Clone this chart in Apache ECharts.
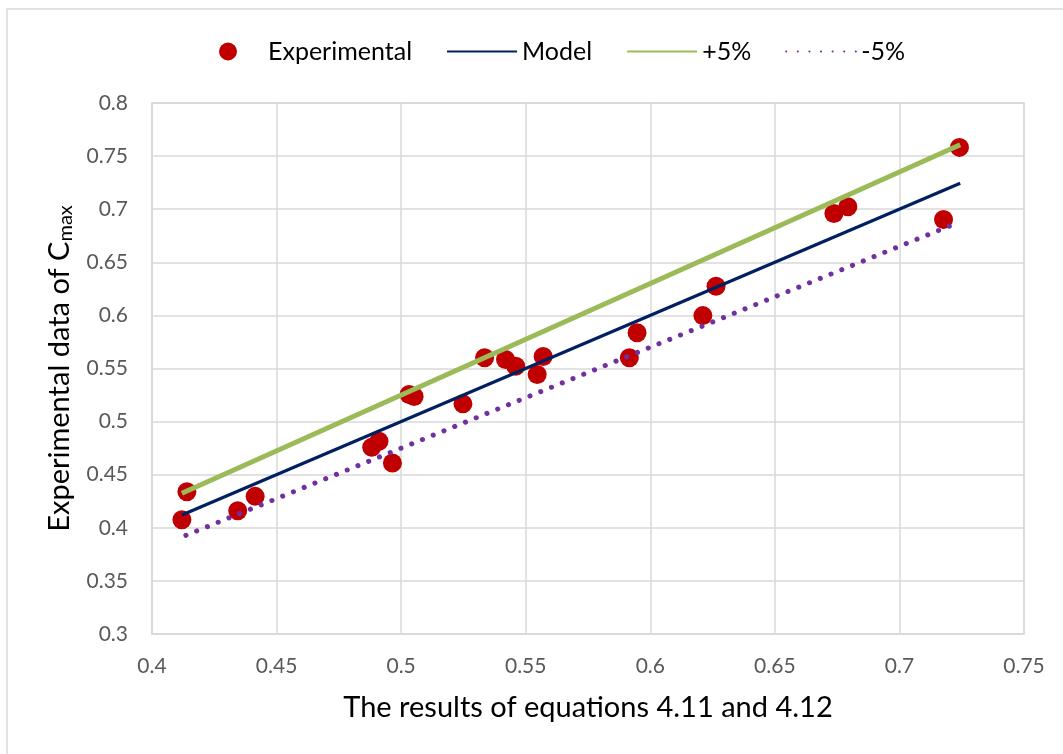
<!DOCTYPE html>
<html>
<head>
<meta charset="utf-8">
<script src="https://cdn.jsdelivr.net/npm/echarts@6/dist/echarts.min.js"></script>
<style>
  html, body { margin: 0; padding: 0; background: #fff; }
  #chart { width: 1063px; height: 754px; }
</style>
</head>
<body>
<div id="chart"></div>
<script>
// Measured vs. predicted maximum concentration
const expX = [0.412, 0.414, 0.4344, 0.4414, 0.4882, 0.4911, 0.4965, 0.5032, 0.5052,
              0.5248, 0.5335, 0.5419, 0.546, 0.5546, 0.557, 0.5916, 0.5947, 0.6211,
              0.6264, 0.6737, 0.6793, 0.7177, 0.7241];
const expY = [0.4075, 0.434, 0.416, 0.4296, 0.4758, 0.4815, 0.461, 0.5255, 0.5236,
              0.5167, 0.5601, 0.5585, 0.5522, 0.5443, 0.5613, 0.5601, 0.5836, 0.5998,
              0.6274, 0.6959, 0.7023, 0.6903, 0.7582];

// Reference lines (model and ±5% band)
const lineX  = [0.412, 0.7244];
const modelY = [0.412, 0.7244];
const plusY  = [0.4326, 0.7606];
const minusX = [0.4136, 0.7228];
const minusY = [0.3929, 0.6867];

// Axis ticks
const xTicks = { min: 0.4, max: 0.75, step: 0.05 };
const yTicks = { min: 0.3, max: 0.8, step: 0.05 };

const pairs = (xs, ys) => xs.map((x, i) => [x, ys[i]]);

const font = 'Lato, "Open Sans", sans-serif';
const gridColor = '#d9d9d9';
const hideSymbol = { itemStyle: { opacity: 0 } };

const chart = echarts.init(document.getElementById('chart'));
chart.setOption({
  animation: false,
  textStyle: { fontFamily: font },
  graphic: [{
    type: 'rect',
    shape: { x: 7, y: 9, width: 1100, height: 800 },
    style: { fill: 'none', stroke: gridColor, lineWidth: 1.5 },
    silent: true
  }],
  legend: {
    top: 34,
    left: 214,
    itemWidth: 70,
    itemHeight: 18,
    itemGap: 34,
    textStyle: { fontSize: 25, color: '#000', fontFamily: font },
    data: [
      { name: 'Experimental' },
      Object.assign({ name: 'Model' }, hideSymbol),
      Object.assign({ name: '+5%' }, hideSymbol),
      Object.assign({ name: '-5%' }, hideSymbol)
    ]
  },
  grid: { left: 152, right: 39, top: 103, bottom: 120, show: true, borderColor: gridColor, borderWidth: 1.5 },
  xAxis: {
    type: 'value',
    min: xTicks.min, max: xTicks.max, interval: xTicks.step,
    name: 'The results of equations 4.11 and 4.12',
    nameLocation: 'middle',
    nameGap: 59,
    nameTextStyle: { fontSize: 29, color: '#000', fontFamily: font },
    axisLine: { lineStyle: { color: gridColor, width: 1.5 } },
    axisTick: { show: false },
    axisLabel: { fontSize: 21, color: '#595959', margin: 22, fontFamily: font },
    splitLine: { lineStyle: { color: gridColor, width: 1.5 } }
  },
  yAxis: {
    type: 'value',
    min: yTicks.min, max: yTicks.max, interval: yTicks.step,
    name: 'Experimental data of C{sub|max}',
    nameLocation: 'middle',
    nameRotate: 90,
    nameGap: 72,
    nameTextStyle: {
      fontSize: 29, color: '#000', fontFamily: font,
      rich: { sub: { fontSize: 20, color: '#000', fontFamily: font, verticalAlign: 'bottom', padding: [12, 0, 0, 0] } }
    },
    axisLine: { show: true, lineStyle: { color: gridColor, width: 1.5 } },
    axisTick: { show: false },
    axisLabel: { fontSize: 21, color: '#595959', margin: 24, fontFamily: font },
    splitLine: { lineStyle: { color: gridColor, width: 1.5 } }
  },
  series: [
    {
      name: 'Experimental',
      type: 'scatter',
      symbol: 'circle',
      symbolSize: 19,
      itemStyle: { color: '#C00000', opacity: 1 },
      data: pairs(expX, expY)
    },
    {
      name: 'Model',
      type: 'line',
      symbol: 'none',
      lineStyle: { color: '#002060', width: 3.2 },
      itemStyle: { color: '#002060' },
      data: pairs(lineX, modelY)
    },
    {
      name: '+5%',
      type: 'line',
      symbol: 'none',
      lineStyle: { color: '#9BBB59', width: 5 },
      itemStyle: { color: '#9BBB59' },
      data: pairs(lineX, plusY)
    },
    {
      name: '-5%',
      type: 'line',
      symbol: 'none',
      lineStyle: { color: '#7030A0', width: 5, type: [0.1, 11.5], cap: 'round' },
      itemStyle: { color: '#7030A0' },
      data: pairs(minusX, minusY)
    }
  ]
});
</script>
</body>
</html>
